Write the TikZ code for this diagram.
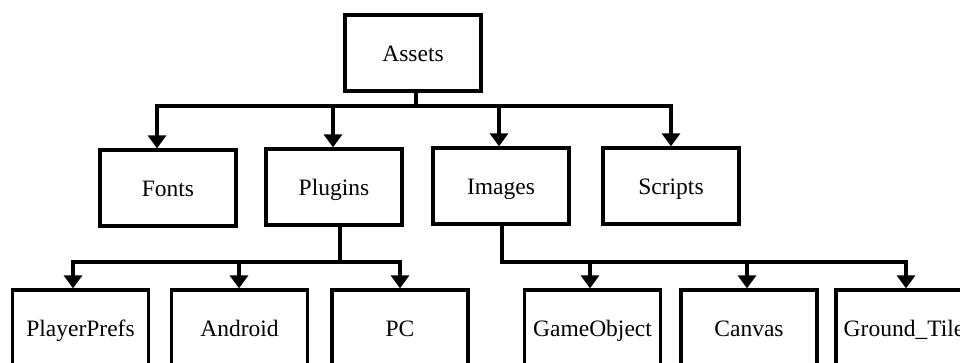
\documentclass[tikz,border=0pt]{standalone}
\usepackage{fontspec}
\setmainfont{Liberation Serif}
\usetikzlibrary{arrows.meta}
\begin{document}
\begin{tikzpicture}[x=1pt,y=-1pt,
  box/.style={draw,line width=3.3pt,minimum width=136pt,minimum height=76pt,inner sep=0pt,
    font=\fontsize{23.5}{28}\selectfont,text height=20pt,text depth=4pt},
  link/.style={line width=3.3pt,line cap=rect},
  arr/.style={line width=3.3pt,-{Triangle[width=18pt,length=13pt]}}]
\useasboundingbox (0,0) rectangle (960,362);
\clip (0,0) rectangle (960,362);
% nodes
\node[box] (assets) at (413,53) {Assets};
\node[box] (fonts) at (168,188) {Fonts};
\node[box] (plugins) at (334,187) {Plugins};
\node[box] (images) at (501,186) {Images};
\node[box] (scripts) at (671,186) {Scripts};
\node[box] (pp) at (80.5,328) {PlayerPrefs};
\node[box] (android) at (239.5,328) {Android};
\node[box] (pc) at (400,328) {PC};
\node[box] (go) at (592.5,328) {GameObject};
\node[box] (canvas) at (749,328) {Canvas};
\node[box] (gt) at (904,328) {Ground\_Tile};
% bus coordinates
\coordinate (a0) at (416,106);
\coordinate (a1) at (157,106);
\coordinate (a2) at (333,106);
\coordinate (a3) at (499,106);
\coordinate (a4) at (671,106);
\coordinate (p0) at (340,262);
\coordinate (p1) at (73,262);
\coordinate (p2) at (239,262);
\coordinate (p3) at (400,262);
\coordinate (i0) at (502,262);
\coordinate (i1) at (590,262);
\coordinate (i2) at (747,262);
\coordinate (i3) at (906,262);
% level 1 connectors
\draw[link] (assets.south -| a0) -- (a0);
\draw[link] (a1) -- (a4);
\draw[arr] (a1) -- (a1 |- fonts.north);
\draw[arr] (a2) -- (a2 |- plugins.north);
\draw[arr] (a3) -- (a3 |- images.north);
\draw[arr] (a4) -- (a4 |- scripts.north);
% plugins connectors
\draw[link] (plugins.south -| p0) -- (p0);
\draw[link] (p1) -- (p3);
\draw[arr] (p1) -- (p1 |- pp.north);
\draw[arr] (p2) -- (p2 |- android.north);
\draw[arr] (p3) -- (p3 |- pc.north);
% images connectors
\draw[link] (images.south -| i0) -- (i0) -- (i3);
\draw[arr] (i1) -- (i1 |- go.north);
\draw[arr] (i2) -- (i2 |- canvas.north);
\draw[arr] (i3) -- (i3 |- gt.north);
\end{tikzpicture}
\end{document}
